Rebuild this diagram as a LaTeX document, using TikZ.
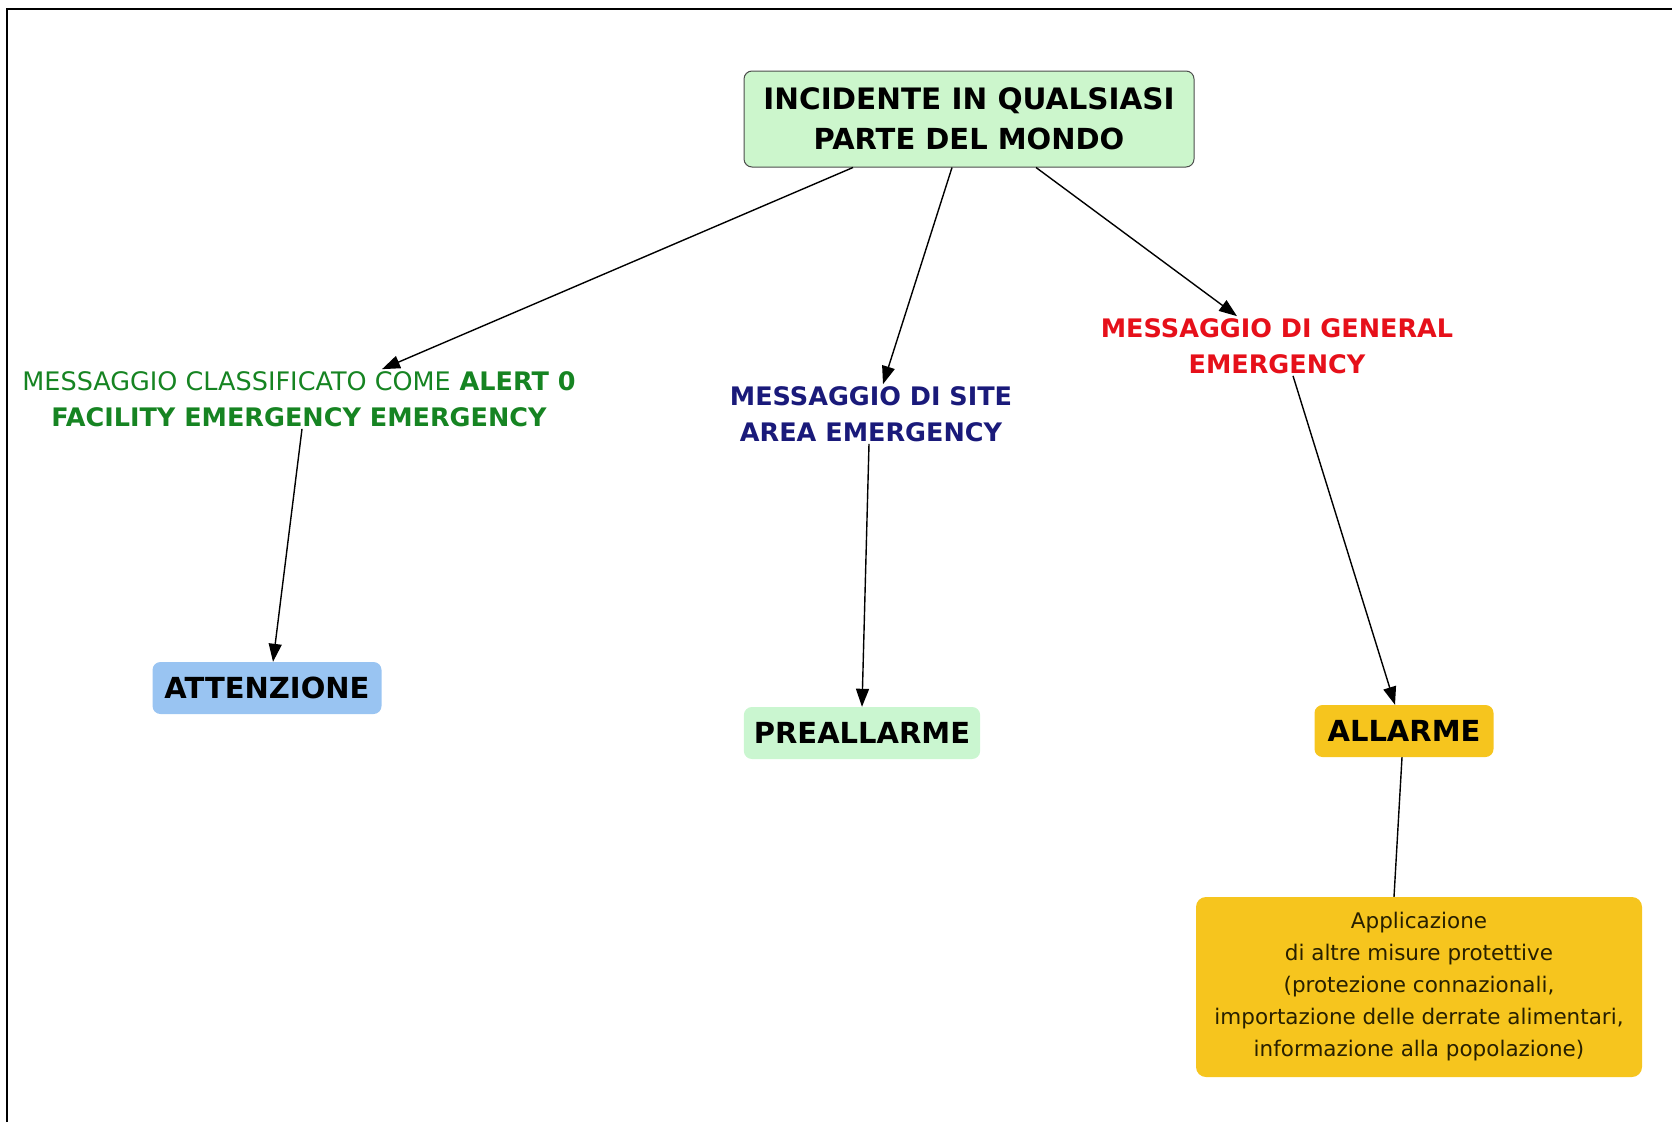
\documentclass[tikz,border=0pt]{standalone}
\usepackage{fontspec}
\setmainfont{DejaVu Sans}
\usetikzlibrary{arrows.meta}

\definecolor{topgreen}{RGB}{204,246,204}
\definecolor{attblue}{RGB}{153,196,242}
\definecolor{preagreen}{RGB}{202,246,208}
\definecolor{allyellow}{RGB}{246,197,30}
\definecolor{msggreen}{RGB}{22,132,34}
\definecolor{msgnavy}{RGB}{26,26,122}
\definecolor{msgred}{RGB}{230,16,26}
\definecolor{misuretext}{RGB}{40,32,0}

\begin{document}
\begin{tikzpicture}[x=1pt,y=-1pt,
    box/.style={rounded corners=8pt, minimum height=52pt, inner xsep=10pt,
      font=\fontsize{29}{40}\selectfont\bfseries, align=center},
    lbl/.style={font=\fontsize{25.5}{36}\selectfont\bfseries, align=center, inner sep=2pt},
    arr/.style={-{Triangle[length=18pt,width=13pt]}, line width=1.4pt}]
\useasboundingbox (0,0) rectangle (1672,1122);
\draw[line width=2pt] (7,1122) -- (7,9) -- (1672,9);

\node[box, draw=black!70, line width=1pt, fill=topgreen, minimum width=450pt, minimum height=96pt] (incid) at (969,119)
  {\fontsize{29.5}{40}\selectfont INCIDENTE IN QUALSIASI\\PARTE DEL MONDO};

\node[lbl, text=msggreen] (alert) at (299,399)
  {{\mdseries MESSAGGIO CLASSIFICATO COME} ALERT 0\\FACILITY EMERGENCY EMERGENCY};
\node[lbl, text=msgnavy] (site) at (871,414) {MESSAGGIO DI SITE\\AREA EMERGENCY};
\node[lbl, text=msgred] (general) at (1277,346) {MESSAGGIO DI GENERAL\\EMERGENCY};

\node[box, fill=attblue, minimum width=229pt] (att) at (267,688) {ATTENZIONE};
\node[box, fill=preagreen, minimum width=233pt] (prea) at (862,733) {PREALLARME};
\node[box, fill=allyellow, minimum width=179pt] (alla) at (1404,731) {ALLARME};
\node[rounded corners=10pt, fill=allyellow, minimum width=446pt, minimum height=180pt,
  align=center, font=\fontsize{21.5}{32}\selectfont, text=misuretext] (misure) at (1419,987)
  {Applicazione\\di altre misure protettive\\(protezione connazionali,\\importazione delle derrate alimentari,\\informazione alla popolazione)};

\draw[arr] ([xshift=-116pt]incid.south) -- ([xshift=83pt]alert.north);
\draw[arr] ([xshift=-17pt]incid.south) -- ([xshift=12pt]site.north);
\draw[arr] ([xshift=67pt]incid.south) -- ([xshift=-40pt]general.north);

\draw[arr] ([xshift=3pt]alert.south) -- ([xshift=6pt]att.north);
\draw[arr] ([xshift=-2pt]site.south) -- (prea.north);
\draw[arr] ([xshift=16pt]general.south) -- ([xshift=-9pt]alla.north);
\draw[line width=1.4pt] ([xshift=-2pt]alla.south) -- ([xshift=-25pt]misure.north);
\end{tikzpicture}
\end{document}
